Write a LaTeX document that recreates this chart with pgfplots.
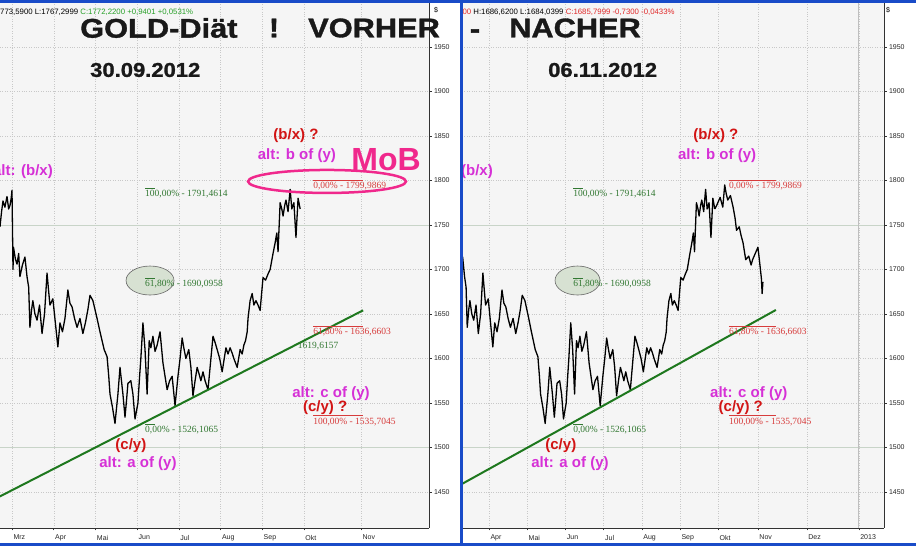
\documentclass[border=0pt]{standalone}
\usepackage{fontspec}
\setmainfont{Liberation Sans}
\newfontfamily\fibfont{Liberation Serif}
\newfontfamily\titlefont[FakeBold=1.2]{Liberation Sans Bold}
\usepackage{graphicx}
\usepackage{pgfplots}
\pgfplotsset{compat=1.18}
\usepackage{pgfplotstable}

\definecolor{bgc}{RGB}{245,245,245}
\definecolor{gridc}{RGB}{200,200,200}
\definecolor{solidgrid}{RGB}{200,212,200}
\definecolor{axisc}{RGB}{50,50,50}
\definecolor{magc}{RGB}{214,48,214}
\definecolor{redc}{RGB}{210,20,20}
\definecolor{pinkc}{RGB}{240,40,140}
\definecolor{fibgreen}{RGB}{50,120,50}
\definecolor{fibred}{RGB}{215,60,60}
\definecolor{trendc}{RGB}{30,120,30}
\definecolor{ellfill}{RGB}{215,225,210}
\definecolor{framec}{RGB}{25,75,200}
\definecolor{hdrgreen}{RGB}{40,160,40}
\definecolor{hdrred}{RGB}{225,40,40}

% gold price, x = months since 1 March 2012
\pgfplotstableread{
m p
-0.288 1748
-0.25 1765
-0.216 1777
-0.17 1770
-0.12 1782
-0.08 1768
-0.048 1772
-0.02 1780
0 1789
0.024 1700
0.036 1725
0.08 1712
0.12 1706
0.16 1718
0.19 1692
0.25 1705
0.31 1714
0.36 1692
0.40 1680
0.43 1635
0.47 1655
0.50 1665
0.55 1650
0.60 1643
0.66 1660
0.72 1628
0.78 1650
0.84 1696
0.88 1675
0.91 1660
0.98 1667
1.04 1640
1.10 1613
1.15 1640
1.21 1630
1.27 1645
1.34 1677
1.39 1662
1.44 1658
1.50 1645
1.56 1635
1.63 1645
1.70 1628
1.76 1640
1.82 1655
1.87 1671
1.94 1665
1.99 1655
2.04 1645
2.11 1630
2.16 1620
2.21 1610
2.28 1602
2.32 1580
2.35 1560
2.41 1545
2.47 1527
2.54 1560
2.59 1590
2.66 1560
2.71 1534
2.75 1555
2.78 1572
2.85 1575
2.90 1560
2.95 1532
3.02 1550
3.06 1580
3.09 1600
3.14 1640
3.19 1610
3.24 1560
3.29 1620
3.33 1612
3.38 1625
3.43 1608
3.48 1615
3.55 1630
3.62 1595
3.67 1580
3.72 1565
3.78 1575
3.84 1580
3.91 1547
3.98 1580
4.03 1600
4.08 1623
4.12 1612
4.17 1600
4.24 1610
4.29 1590
4.34 1558
4.39 1575
4.44 1590
4.49 1582
4.53 1575
4.58 1585
4.63 1575
4.70 1565
4.77 1600
4.82 1625
4.87 1618
4.92 1610
4.98 1600
5.04 1585
5.09 1600
5.13 1612
5.18 1605
5.23 1612
5.28 1606
5.32 1600
5.40 1590
5.47 1610
5.52 1605
5.56 1615
5.60 1620
5.64 1630
5.66 1645
5.71 1665
5.76 1673
5.80 1660
5.85 1665
5.90 1660
5.95 1654
6.02 1691
6.08 1688
6.14 1695
6.19 1700
6.26 1718
6.31 1730
6.35 1741
6.38 1720
6.43 1775
6.47 1768
6.50 1760
6.54 1772
6.57 1778
6.62 1765
6.67 1790
6.71 1768
6.76 1775
6.81 1736
6.86 1780
6.91 1768
}\goldA

\pgfplotstableread{
m p
6.91 1768
6.96 1772
7.05 1781
7.12 1770
7.17 1795
7.21 1785
7.25 1778
7.32 1783
7.39 1770
7.44 1758
7.48 1744
7.55 1748
7.60 1738
7.65 1730
7.72 1711
7.80 1715
7.86 1705
7.90 1711
7.97 1718
8.04 1725
8.09 1706
8.13 1690
8.15 1673
8.17 1686
}\goldB

\pgfplotsset{
  panel/.style={
    scale only axis, height=525pt,
    ymin=1409.55, ymax=1999.4,
    axis background/.style={fill=bgc},
    axis x line*=bottom, axis y line*=right,
    ytick={1450,1500,...,1950},
    xmajorgrids, ymajorgrids,
    major grid style={dotted, gridc, line width=0.4pt},
    tick align=outside, major tick length=2.5pt,
    major tick style={axisc, line width=0.5pt},
    axis line style={axisc, line width=0.8pt},
    every tick label/.append style={font=\fontsize{7}{8}\selectfont, text=black!85},
    yticklabel style={anchor=west, xshift=-1pt},
    xticklabel style={anchor=north west, xshift=-2pt, yshift=-1pt},
    /pgf/number format/assume math mode=true,
    /pgf/number format/1000 sep={},
    clip=true,
  },
}
\tikzset{
  ann/.style={font=\bfseries\fontsize{15}{16}\selectfont, inner sep=0pt},
  fib/.style={font=\fibfont\fontsize{9.5}{10}\selectfont, inner sep=0pt, anchor=north west, yshift=-2pt},
  price/.style={black, line width=1.3pt, line join=round},
}

\begin{document}
\begin{tikzpicture}
\fill[white] (0pt,0pt) rectangle (916pt,546pt);
\path[use as bounding box] (0pt,0pt) rectangle (916pt,546pt);

% ---------------- left panel ----------------
\begin{axis}[panel, at={(0pt,18pt)}, anchor=south west, width=429pt,
  xmin=-0.2878, xmax=10.0,
  xtick={0,1,2,3,4,5,6,7,8.37},
  xticklabels={Mrz,Apr,Mai,Jun,Jul,Aug,Sep,Okt,Nov}]
\draw[solidgrid, line width=0.7pt] (axis cs:-0.2878,1750) -- (axis cs:10,1750);
\draw[solidgrid, line width=0.7pt] (axis cs:-0.2878,1500) -- (axis cs:10,1500);
\fill[ellfill, draw=black!60, line width=0.6pt] (axis cs:3.31,1687.6) ellipse [x radius=0.5755, y radius=16.29];
\addplot[price] table[x=m,y=p]{\goldA};
\addplot[trendc, line width=2pt] coordinates {(-0.3,1444.8) (8.42,1654.1)};
\addplot[fibgreen, line width=0.5pt] coordinates {(3.19,1791.46) (3.43,1791.46)};
\addplot[fibgreen, line width=0.5pt] coordinates {(3.19,1690.10) (3.43,1690.10)};
\addplot[fibgreen, line width=0.5pt] coordinates {(3.19,1526.11) (3.43,1526.11)};
\addplot[fibred, line width=0.5pt] coordinates {(7.22,1799.99) (8.42,1799.99)};
\addplot[fibred, line width=0.5pt] coordinates {(7.22,1636.66) (8.42,1636.66)};
\addplot[fibred, line width=0.5pt] coordinates {(7.22,1535.70) (8.42,1535.70)};
\node[fib, text=fibgreen] at (axis cs:3.19,1791.46) {100,00\% - 1791,4614};
\node[fib, text=fibgreen] at (axis cs:3.19,1690.10) {61,80\% - 1690,0958};
\node[fib, text=fibgreen] at (axis cs:3.19,1526.11) {0,00\% - 1526,1065};
\node[fib, text=fibred] at (axis cs:7.22,1799.99) {0,00\% - 1799,9869};
\node[fib, text=fibred] at (axis cs:7.22,1636.66) {61,80\% - 1636,6603};
\node[fib, text=fibred] at (axis cs:7.22,1535.70) {100,00\% - 1535,7045};
\node[font=\fibfont\fontsize{9.5}{10}\selectfont, text=fibgreen, inner sep=0pt] at (axis cs:7.34,1614.0) {1619,6157};
\draw[pinkc, line width=2.5pt] (axis cs:7.554,1798.9) ellipse [x radius=1.894, y radius=12.92];
\node[font=\bfseries\fontsize{32}{34}\selectfont, text=pinkc, inner sep=0pt] at (axis cs:8.97,1823.0) {MoB};
\node[ann, text=redc] at (axis cs:6.81,1850.0) {(b/x) ?};
\node[ann, text=magc] at (axis cs:6.83,1827.5) {alt: b of (y)};
\node[ann, text=magc, anchor=east] at (axis cs:0.983,1809.6) {alt: (b/x)};
\node[ann, text=magc] at (axis cs:7.65,1560.1) {alt: c of (y)};
\node[ann, text=redc] at (axis cs:7.51,1544.4) {(c/y) ?};
\node[ann, text=redc] at (axis cs:2.85,1501.7) {(c/y)};
\node[ann, text=magc] at (axis cs:3.02,1481.5) {alt: a of (y)};
\end{axis}

% ---------------- right panel ----------------
\begin{scope}
\clip (462pt,0pt) rectangle (916pt,546pt);
\begin{axis}[panel, at={(462pt,18pt)}, anchor=south west, width=422pt,
  xmin=0.293, xmax=11.34,
  xtick={1,2,3,4,5,6,7,8.04,9.32,10.68},
  xticklabels={Apr,Mai,Jun,Jul,Aug,Sep,Okt,Nov,Dez,2013}]
\draw[solidgrid, line width=0.7pt] (axis cs:0.293,1750) -- (axis cs:11.34,1750);
\draw[solidgrid, line width=0.7pt] (axis cs:0.293,1500) -- (axis cs:11.34,1500);
\draw[black!25, line width=0.8pt] (axis cs:10.68,1409.55) -- (axis cs:10.68,1999.4);
\fill[ellfill, draw=black!60, line width=0.6pt] (axis cs:3.317,1687.6) ellipse [x radius=0.589, y radius=16.29];
\addplot[price] table[x=m,y=p]{\goldA};
\addplot[price] table[x=m,y=p]{\goldB};
\addplot[trendc, line width=2pt] coordinates {(0.24,1457.8) (8.51,1654.5)};
\addplot[fibgreen, line width=0.5pt] coordinates {(3.20,1791.46) (3.46,1791.46)};
\addplot[fibgreen, line width=0.5pt] coordinates {(3.20,1690.10) (3.46,1690.10)};
\addplot[fibgreen, line width=0.5pt] coordinates {(3.20,1526.11) (3.46,1526.11)};
\addplot[fibred, line width=0.5pt] coordinates {(7.28,1799.99) (8.51,1799.99)};
\addplot[fibred, line width=0.5pt] coordinates {(7.28,1636.66) (8.51,1636.66)};
\addplot[fibred, line width=0.5pt] coordinates {(7.28,1535.70) (8.51,1535.70)};
\node[fib, text=fibgreen] at (axis cs:3.20,1791.46) {100,00\% - 1791,4614};
\node[fib, text=fibgreen] at (axis cs:3.20,1690.10) {61,80\% - 1690,0958};
\node[fib, text=fibgreen] at (axis cs:3.20,1526.11) {0,00\% - 1526,1065};
\node[fib, text=fibred] at (axis cs:7.28,1799.99) {0,00\% - 1799,9869};
\node[fib, text=fibred] at (axis cs:7.28,1636.66) {61,80\% - 1636,6603};
\node[fib, text=fibred] at (axis cs:7.28,1535.70) {100,00\% - 1535,7045};
\node[ann, text=redc] at (axis cs:6.94,1850.0) {(b/x) ?};
\node[ann, text=magc] at (axis cs:6.97,1827.5) {alt: b of (y)};
\node[ann, text=magc, anchor=east] at (axis cs:1.105,1809.6) {alt: (b/x)};
\node[ann, text=magc] at (axis cs:7.80,1560.1) {alt: c of (y)};
\node[ann, text=redc] at (axis cs:7.59,1544.4) {(c/y) ?};
\node[ann, text=redc] at (axis cs:2.88,1501.7) {(c/y)};
\node[ann, text=magc] at (axis cs:3.12,1481.5) {alt: a of (y)};
\end{axis}
\node[anchor=west, inner sep=0pt, font=\fontsize{7.8}{8}\selectfont] at (458pt,534pt)
  {\textcolor{hdrred}{400} H:1686,6200 L:1684,0399 \textcolor{hdrred}{C:1685,7999 -0,7300 -0,0433\%}};
\end{scope}

% headers and titles
\node[anchor=west, inner sep=0pt, font=\fontsize{7.8}{8}\selectfont] at (0pt,534pt)
  {773,5900 L:1767,2999 \textcolor{hdrgreen}{C:1772,2200 +0,9401 +0,0531\%}};
\node[anchor=west, inner sep=0pt, font=\fontsize{7}{8}\selectfont] at (434pt,536pt) {\$};
\node[anchor=west, inner sep=0pt, font=\fontsize{7}{8}\selectfont] at (886pt,536pt) {\$};

\begin{scope}[every node/.style={inner sep=0pt, font=\titlefont\fontsize{27}{30}\selectfont, text=black!90}]
\node[anchor=west] at (80pt,518pt) {\scalebox{1.14}[1]{GOLD-Diät}};
\node at (274pt,518pt) {\scalebox{1.14}[1]{!}};
\node[anchor=west] at (308pt,518pt) {\scalebox{1.14}[1]{VORHER}};
\node[anchor=base] at (475pt,508pt) {\scalebox{1.14}[1]{-}};
\node[anchor=west] at (509pt,518pt) {\scalebox{1.14}[1]{NACHER}};
\end{scope}
\node[anchor=west, inner sep=0pt, font=\titlefont\fontsize{20}{22}\selectfont, text=black!90] at (90pt,476pt) {\scalebox{1.1}[1]{30.09.2012}};
\node[anchor=west, inner sep=0pt, font=\titlefont\fontsize{20}{22}\selectfont, text=black!90] at (548pt,476pt) {\scalebox{1.1}[1]{06.11.2012}};

% window frames
\fill[framec] (459.5pt,0pt) rectangle (462.5pt,546pt);
\fill[framec] (0pt,543pt) rectangle (916pt,546pt);
\fill[framec] (0pt,0pt) rectangle (916pt,3pt);
\end{tikzpicture}
\end{document}
